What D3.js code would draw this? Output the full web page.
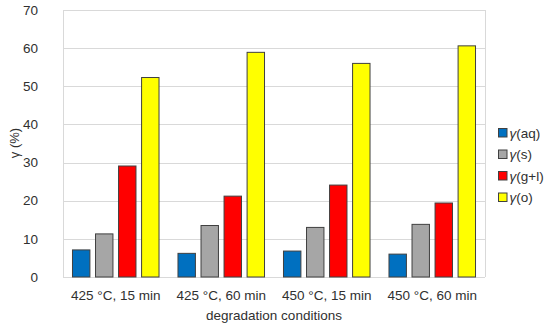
<!DOCTYPE html>
<html>
<head>
<meta charset="utf-8">
<script src="https://cdn.jsdelivr.net/npm/d3@7"></script>
<style>
  body { margin: 0; background: #fff; }
  svg { display: block; font-family: "Liberation Sans", Arial, sans-serif; }
</style>
</head>
<body>
<svg width="550" height="329"></svg>
<script>
(function () {
    'use strict';

    const conditions = ['425 °C, 15 min', '425 °C, 60 min', '450 °C, 15 min', '450 °C, 60 min'];
    const seriesNames = ['aq', 's', 'g+l', 'o'];
    const seriesColors = ['#0070C0', '#A6A6A6', '#FF0000', '#FFFF00'];
    const yAq = [7.1, 6.2, 6.8, 6.0];
    const yS = [11.3, 13.5, 13.0, 13.8];
    const yGL = [29.1, 21.2, 24.1, 19.4];
    const yO = [52.3, 58.9, 56.0, 60.6];
    const yTicks = [0, 10, 20, 30, 40, 50, 60, 70];

    const values = [yAq, yS, yGL, yO];

    const width = 550;
    const height = 329;
    const margin = ({ top: 10, right: 65, bottom: 52, left: 63 });
    const textColor = '#303030';

    const svg = d3.select('svg');

    const x = d3.scaleBand()
        .domain(conditions)
        .range([margin.left, width - margin.right])
        .paddingInner(0)
        .paddingOuter(0);

    const xs = d3.scaleBand()
        .domain(seriesNames)
        .range([0, x.bandwidth()])
        .paddingInner(0.2)
        .paddingOuter(0.39);

    const y = d3.scaleLinear()
        .domain([0, 70])
        .range([height - margin.bottom, margin.top]);

    // gridlines
    svg.append('g')
        .selectAll('line')
        .data(yTicks)
        .join('line')
        .attr('x1', margin.left)
        .attr('x2', width - margin.right)
        .attr('y1', d => Math.round(y(d)) + 0.5)
        .attr('y2', d => Math.round(y(d)) + 0.5)
        .attr('stroke', '#D9D9D9')
        .attr('stroke-width', 1);

    // plot borders left/right
    [margin.left, width - margin.right].forEach(px => {
        svg.append('line')
            .attr('x1', px + 0.5).attr('x2', px + 0.5)
            .attr('y1', y(70)).attr('y2', y(0))
            .attr('stroke', '#D9D9D9');
    });

    // y tick labels
    svg.append('g')
        .selectAll('text')
        .data(yTicks)
        .join('text')
        .attr('x', 38)
        .attr('y', d => y(d))
        .attr('dy', '0.35em')
        .attr('text-anchor', 'end')
        .attr('font-size', 13.5)
        .attr('fill', textColor)
        .text(d => d);

    // bars
    const groups = svg.append('g')
        .selectAll('g')
        .data(conditions)
        .join('g')
        .attr('transform', d => `translate(${x(d)},0)`);

    groups.selectAll('rect')
        .data((c, i) => seriesNames.map((s, j) => ({ s, j, v: values[j][i] })))
        .join('rect')
        .attr('x', d => xs(d.s) + 0.5)
        .attr('y', d => y(d.v))
        .attr('width', xs.bandwidth() - 1)
        .attr('height', d => y(0) - y(d.v))
        .attr('fill', d => seriesColors[d.j])
        .attr('stroke', '#404040')
        .attr('stroke-width', 1);

    // x labels
    svg.append('g')
        .selectAll('text')
        .data(conditions)
        .join('text')
        .attr('x', d => x(d) + x.bandwidth() / 2)
        .attr('y', 295)
        .attr('dy', '0.35em')
        .attr('text-anchor', 'middle')
        .attr('font-size', 13.5)
        .attr('fill', textColor)
        .text(d => d);

    svg.append('text')
        .attr('x', (margin.left + width - margin.right) / 2)
        .attr('y', 315)
        .attr('dy', '0.35em')
        .attr('text-anchor', 'middle')
        .attr('font-size', 13.5)
        .attr('fill', textColor)
        .text('degradation conditions');

    // y title
    svg.append('text')
        .attr('transform', `translate(14,143) rotate(-90)`)
        .attr('dy', '0.35em')
        .attr('text-anchor', 'middle')
        .attr('font-size', 13)
        .attr('fill', textColor)
        .text('γ (%)');

    // legend
    const legend = svg.append('g')
        .selectAll('g')
        .data(seriesNames)
        .join('g')
        .attr('transform', (d, i) => `translate(498,${133 + i * 21.5})`);

    legend.append('rect')
        .attr('x', 0.5)
        .attr('y', -4.5)
        .attr('width', 8.5)
        .attr('height', 8.5)
        .attr('fill', (d, i) => seriesColors[i])
        .attr('stroke', '#404040');

    const lt = legend.append('text')
        .attr('x', 11.5)
        .attr('dy', '0.35em')
        .attr('font-size', 13.5)
        .attr('fill', textColor);
    lt.append('tspan').attr('font-style', 'italic').text('γ');
    lt.append('tspan').text(d => `(${d})`);
})();
</script>
</body>
</html>
